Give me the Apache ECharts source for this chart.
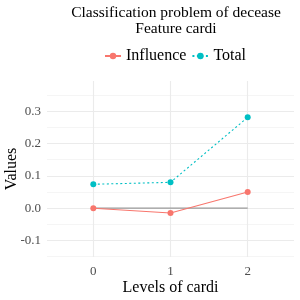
<!DOCTYPE html>
<html><head><meta charset="utf-8">
<script src="https://cdn.jsdelivr.net/npm/echarts@6/dist/echarts.min.js"></script>
<style>html,body{margin:0;padding:0;background:#fff}#c{width:300px;height:300px}</style>
</head><body><div id="c"></div>
<script>
const levels = [0, 1, 2];
const influence = [0.000, -0.015, 0.050];
const total = [0.074, 0.080, 0.281];
const yTicks = [-0.1, 0.0, 0.1, 0.2, 0.3];
const yMinor = [-0.15, -0.05, 0.05, 0.15, 0.25, 0.35];
const zeroLine = [[0, 0], [2, 0]];

const serif = 'Liberation Serif';
const chart = echarts.init(document.getElementById('c'), null, {renderer: 'canvas'});
chart.setOption({
  animation: false,
  title: {
    text: 'Classification problem of decease\nFeature cardi',
    left: 171, top: 0, textAlign: 'center',
    textStyle: {fontFamily: serif, fontSize: 15.5, fontWeight: 'normal', color: '#000', lineHeight: 16}
  },
  legend: {
    top: 43, left: 99, orient: 'horizontal', width: 200,
    itemWidth: 16, itemHeight: 8, itemGap: 5,
    textStyle: {fontFamily: serif, fontSize: 16, color: '#000'},
    data: ['Influence', 'Total']
  },
  grid: {left: 47, right: 6, top: 81, bottom: 43, outerBoundsMode: 'none', containLabel: false},
  xAxis: {
    type: 'value', min: -0.6, max: 2.6,
    name: 'Levels of cardi', nameLocation: 'middle', nameGap: 23, nameMoveOverlap: false,
    nameTextStyle: {fontFamily: serif, fontSize: 16, color: '#000'},
    axisLine: {show: false},
    axisTick: {show: false, customValues: levels},
    axisLabel: {customValues: levels, fontFamily: serif, fontSize: 13, color: '#4d4d4d', margin: 8},
    splitLine: {show: true, lineStyle: {color: '#ebebeb', width: 1.1}}
  },
  yAxis: [{
    type: 'value', min: -0.151, max: 0.3935,
    name: 'Values', nameLocation: 'middle', nameGap: 27, nameMoveOverlap: false,
    nameTextStyle: {fontFamily: serif, fontSize: 16, color: '#000'},
    axisLine: {show: false},
    axisTick: {show: false, customValues: yTicks},
    axisLabel: {customValues: yTicks, fontFamily: serif, fontSize: 13, color: '#4d4d4d', margin: 6,
      formatter: v => v.toFixed(1)},
    splitLine: {show: true, lineStyle: {color: '#ebebeb', width: 1.1}}
  }, {
    type: 'value', min: -0.151, max: 0.3935, position: 'left',
    axisLine: {show: false}, axisLabel: {show: false},
    axisTick: {show: false, customValues: yMinor},
    splitLine: {show: true, lineStyle: {color: '#f3f3f3', width: 0.8}}
  }],
  series: [{
    name: 'zero', type: 'line', data: zeroLine, symbol: 'none', silent: true,
    lineStyle: {color: '#9a9a9a', width: 1.2}, z: 1
  }, {
    name: 'Influence', type: 'line', data: levels.map((x, i) => [x, influence[i]]),
    symbol: 'circle', symbolSize: 6, color: '#F8766D',
    lineStyle: {color: '#F8766D', width: 1.1}, z: 3
  }, {
    name: 'Total', type: 'line', data: levels.map((x, i) => [x, total[i]]),
    symbol: 'circle', symbolSize: 6, color: '#00BFC4',
    lineStyle: {color: '#00BFC4', width: 1.1, type: [2, 2.5]}, z: 3
  }]
});
</script></body></html>
